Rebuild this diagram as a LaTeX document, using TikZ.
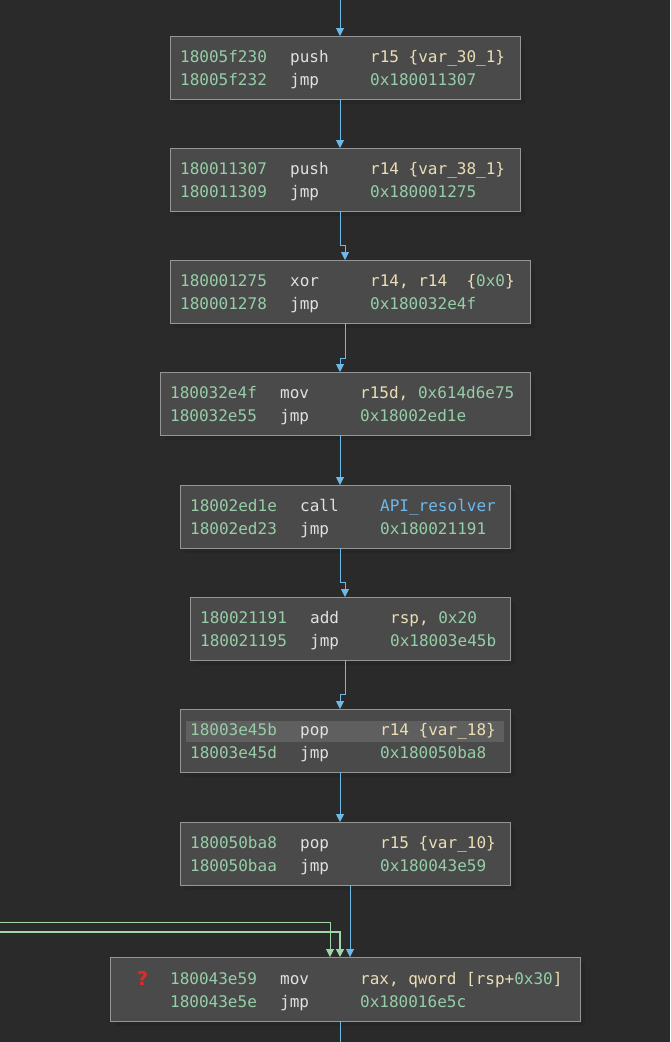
\documentclass[tikz,border=0pt]{standalone}
\usepackage{fontspec}
\setmonofont{DejaVu Sans Mono}
\usetikzlibrary{arrows.meta}
\definecolor{bg}{RGB}{42,42,42}
\definecolor{blk}{RGB}{74,74,74}
\definecolor{bord}{RGB}{150,150,150}
\definecolor{addr}{RGB}{150,206,168}
\definecolor{mn}{RGB}{225,225,225}
\definecolor{reg}{RGB}{236,222,180}
\definecolor{num}{RGB}{150,206,168}
\definecolor{api}{RGB}{110,185,235}
\definecolor{edgeb}{RGB}{110,185,230}
\definecolor{edgeg}{RGB}{160,215,170}
\definecolor{hl}{RGB}{95,95,95}
\definecolor{qred}{RGB}{230,40,40}
\tikzset{
 x=1pt,y=-1pt,
 blockbox/.style={draw=bord,fill=blk,line width=1pt},
 shad/.style={fill=black!85},
 txt/.style={font=\ttfamily\fontsize{16}{16}\selectfont,anchor=base west,inner sep=0pt},
 flow/.style={draw=edgeb,line width=1pt,-{Triangle[width=8pt,length=8pt]}},
 flowg/.style={draw=edgeg,line width=1pt,-{Triangle[width=8pt,length=8pt]}},
}
\newcommand{\blockat}[5]{%
 \fill[shad] (#2+5,#3+5) rectangle (#4+5,#5+5);
 \node[blockbox,minimum width=#4-#2,minimum height=#5-#3,anchor=north west,inner sep=0pt] (#1) at (#2,#3) {};
}
\newcommand{\rowtxt}[6]{%
 \node[txt,text=addr] at (#1,#2) {#3};
 \node[txt,text=mn] at (#1+110,#2) {#4};
 \node[txt] at (#1+190,#2) {#5#6};
}
\begin{document}
\begin{tikzpicture}
\fill[bg] (0,0) rectangle (670,1042);
\useasboundingbox (0,0) rectangle (670,1042);
\blockat{b1}{170}{36}{520}{99}
\blockat{b2}{170}{148}{520}{211}
\blockat{b3}{170}{260}{530}{323}
\blockat{b4}{160}{372}{530}{435}
\blockat{b5}{180}{485}{510}{548}
\blockat{b6}{190}{597}{510}{660}
\blockat{b7}{180}{709}{510}{772}
\blockat{b8}{180}{822}{510}{885}
\blockat{b9}{110}{957}{580}{1021}
\fill[hl] (186,721) rectangle (504,742);
% texts
\rowtxt{180}{62}{18005f230}{push}{\textcolor{reg}{r15 }}{\textcolor{reg}{\{var\_30\_1\}}}
\rowtxt{180}{85}{18005f232}{jmp}{\textcolor{num}{0x180011307}}{}
\rowtxt{180}{174}{180011307}{push}{\textcolor{reg}{r14 }}{\textcolor{reg}{\{var\_38\_1\}}}
\rowtxt{180}{197}{180011309}{jmp}{\textcolor{num}{0x180001275}}{}
\rowtxt{180}{286}{180001275}{xor}{\textcolor{reg}{r14, r14~~\{}}{\textcolor{num}{0x0}\textcolor{reg}{\}}}
\rowtxt{180}{309}{180001278}{jmp}{\textcolor{num}{0x180032e4f}}{}
\rowtxt{170}{398}{180032e4f}{mov}{\textcolor{reg}{r15d, }}{\textcolor{num}{0x614d6e75}}
\rowtxt{170}{421}{180032e55}{jmp}{\textcolor{num}{0x18002ed1e}}{}
\rowtxt{190}{511}{18002ed1e}{call}{\textcolor{api}{API\_resolver}}{}
\rowtxt{190}{534}{18002ed23}{jmp}{\textcolor{num}{0x180021191}}{}
\rowtxt{200}{623}{180021191}{add}{\textcolor{reg}{rsp, }}{\textcolor{num}{0x20}}
\rowtxt{200}{646}{180021195}{jmp}{\textcolor{num}{0x18003e45b}}{}
\rowtxt{190}{735}{18003e45b}{pop}{\textcolor{reg}{r14 }}{\textcolor{reg}{\{var\_18\}}}
\rowtxt{190}{758}{18003e45d}{jmp}{\textcolor{num}{0x180050ba8}}{}
\rowtxt{190}{848}{180050ba8}{pop}{\textcolor{reg}{r15 }}{\textcolor{reg}{\{var\_10\}}}
\rowtxt{190}{871}{180050baa}{jmp}{\textcolor{num}{0x180043e59}}{}
\rowtxt{170}{984}{180043e59}{mov}{\textcolor{reg}{rax, qword [rsp+}}{\textcolor{num}{0x30}\textcolor{reg}{]}}
\rowtxt{170}{1007}{180043e5e}{jmp}{\textcolor{num}{0x180016e5c}}{}
\node[txt,text=qred,font=\fontspec{DejaVu Sans}\bfseries\fontsize{19}{19}\selectfont] (q) at (137,985) {?};
% edges
\coordinate (t0) at (340,0);
\draw[flow] (t0) -- (b1.north -| t0);
\draw[flow] (340,99) -- (340,148);
\draw[flow] (340,211) -- (340,245) -- (345,245) -- (345,260);
\draw[flow] (345,323) -- (345,358) -- (340,358) -- (340,372);
\draw[flow] (340,435) -- (340,485);
\draw[flow] (340,548) -- (340,582) -- (345,582) -- (345,597);
\draw[flow] (345,660) -- (345,694) -- (340,694) -- (340,709);
\draw[flow] (340,772) -- (340,822);
\draw[flow] (350,885) -- (350,957);
\draw[flowg] (0,922) -- (330,922) -- (330,957);
\draw[flowg,line width=1.5pt] (0,932) -- (340,932) -- (340,957);
\draw[draw=edgeb,line width=1pt] (340,1021) -- (340,1042);
\end{tikzpicture}
\end{document}
